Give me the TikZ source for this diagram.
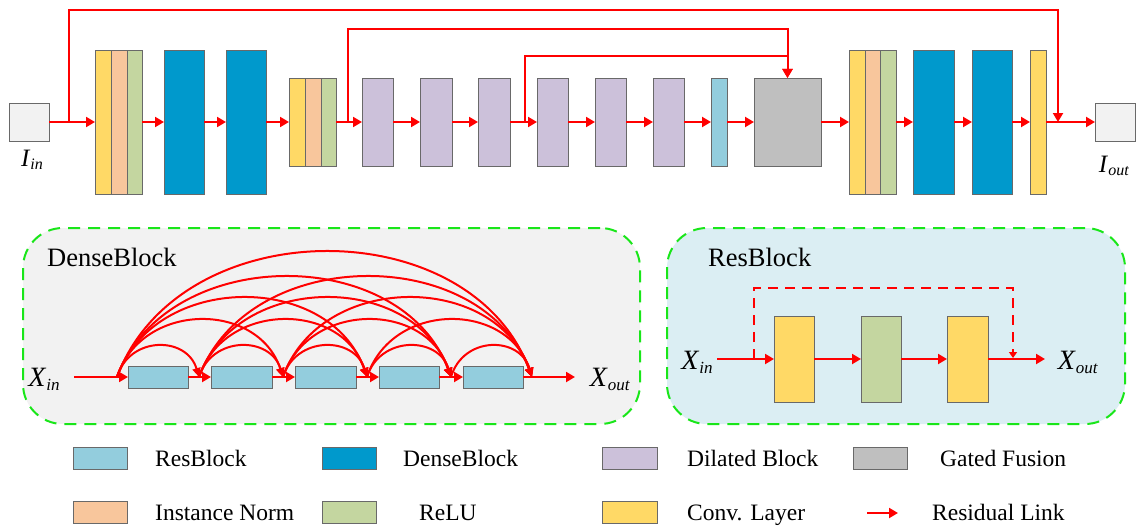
\documentclass[tikz,border=0pt]{standalone}
\usepackage{fontspec}
\setmainfont{Liberation Serif}
\usetikzlibrary{arrows.meta}

\definecolor{convY}{RGB}{255,217,102}
\definecolor{normO}{RGB}{248,198,156}
\definecolor{reluG}{RGB}{196,214,160}
\definecolor{denseB}{RGB}{0,153,204}
\definecolor{dilP}{RGB}{204,193,218}
\definecolor{resB}{RGB}{147,205,221}
\definecolor{gateG}{RGB}{191,191,191}
\definecolor{ioG}{RGB}{242,242,242}
\definecolor{edgeG}{RGB}{105,105,105}
\definecolor{panelG}{RGB}{242,242,242}
\definecolor{panelB}{RGB}{219,238,243}
\definecolor{dashG}{RGB}{25,230,25}
\definecolor{linkR}{RGB}{255,0,0}

% box given by its left, top, right and bottom edges
\newcommand{\mkbox}[6]{%
  \node[blk,fill=#2,minimum width={(#5-#3)*1pt},minimum height={(#6-#4)*1pt}]
    (#1) at ({(#3+#5)/2},{(#4+#6)/2}) {};}
% italic symbol with italic subscript
\newcommand{\biglab}[2]{{\fontsize{28}{30}\selectfont\textit{#1}\raisebox{-4pt}{\fontsize{17}{18}\selectfont\textit{#2}}}}
\newcommand{\toplab}[2]{{\fontsize{25}{27}\selectfont\textit{#1}\raisebox{-3pt}{\fontsize{16}{17}\selectfont\textit{#2}}}}

\begin{document}
\begin{tikzpicture}[x=1pt,y=-1pt,
  blk/.style={draw=edgeG,line width=0.9pt,inner sep=0pt,outer sep=0pt,rectangle},
  tip/.style={-{Triangle[length=9pt,width=10pt]}},
  flow/.style={draw=linkR,line width=2pt,tip},
  skiplink/.style={draw=linkR,line width=2pt,tip},
  dashlink/.style={draw=linkR,line width=2pt,dash pattern=on 10pt off 7pt,-{Triangle[length=6pt,width=8pt]}},
  arc/.style={draw=linkR,line width=2pt,-{Triangle[length=9pt,width=8pt]}},
  panel/.style={draw=dashG,line width=2pt,dash pattern=on 12pt off 8pt,rounded corners=40pt,inner sep=0pt,outer sep=0pt},
  title/.style={anchor=west,inner sep=0pt,font=\fontsize{26.5}{28}\selectfont},
  legtext/.style={anchor=west,inner sep=0pt,text height=16pt,text depth=0pt,font=\fontsize{23.5}{25}\selectfont}]
\useasboundingbox (0,0) rectangle (1144,527);

% ---------------- main network ----------------
\mkbox{in}{ioG}{9}{103}{49}{141}
\mkbox{ca1}{convY}{95}{50}{111}{194}
\mkbox{ca2}{normO}{111}{50}{127}{194}
\mkbox{ca3}{reluG}{127}{50}{142}{194}
\mkbox{da1}{denseB}{164}{50}{204}{194}
\mkbox{da2}{denseB}{226}{50}{266}{194}
\mkbox{cb1}{convY}{289}{78}{305}{166}
\mkbox{cb2}{normO}{305}{78}{321}{166}
\mkbox{cb3}{reluG}{321}{78}{336}{166}
\mkbox{dl1}{dilP}{362}{78}{393}{166}
\mkbox{dl2}{dilP}{420}{78}{452}{166}
\mkbox{dl3}{dilP}{478}{78}{510}{166}
\mkbox{dl4}{dilP}{537}{78}{568}{166}
\mkbox{dl5}{dilP}{595}{78}{626}{166}
\mkbox{dl6}{dilP}{653}{78}{684}{166}
\mkbox{rb}{resB}{711}{78}{727}{166}
\mkbox{gf}{gateG}{754}{78}{821}{166}
\mkbox{cc1}{convY}{849}{50}{865}{194}
\mkbox{cc2}{normO}{865}{50}{880}{194}
\mkbox{cc3}{reluG}{880}{50}{896}{194}
\mkbox{db1}{denseB}{913}{50}{954}{194}
\mkbox{db2}{denseB}{972}{50}{1012}{194}
\mkbox{cv}{convY}{1030}{50}{1046}{194}
\mkbox{out}{ioG}{1095}{103}{1135}{141}

\node[inner sep=0pt] (inlab) at (32,160) {\toplab{I}{in}};
\node[inner sep=0pt] (outlab) at (1114,166) {\toplab{I}{out}};

\foreach \a/\b in {in/ca1,ca3/da1,da1/da2,da2/cb1,cb3/dl1,dl1/dl2,dl2/dl3,
  dl3/dl4,dl4/dl5,dl5/dl6,dl6/rb,rb/gf,gf/cc1,cc3/db1,db1/db2,db2/cv,cv/out}
  \draw[flow] (\a.east) -- (\b.west);

% long-range residual links
\coordinate (s1) at (69,122);  \coordinate (t1) at (69,10);  \coordinate (s1e) at (1058,122);
\coordinate (s2) at (348,122); \coordinate (t2) at (348,29);
\coordinate (s3) at (525,122); \coordinate (t3) at (525,56);
\draw[skiplink] (s1) -- (t1) -| (s1e);
\draw[skiplink] (s3) -- (t3) -| (gf.north);
\draw[skiplink] (s2) -- (t2) -| (gf.north);

% ---------------- DenseBlock detail ----------------
\node[panel,fill=panelG,minimum width=617pt,minimum height=196pt] (dpanel) at (331.5,326) {};
\node[title] (dtitle) at (47,257) {DenseBlock};
\mkbox{r1}{resB}{128}{366}{188}{388}
\mkbox{r2}{resB}{211}{366}{272}{388}
\mkbox{r3}{resB}{295}{366}{356}{388}
\mkbox{r4}{resB}{379}{366}{439}{388}
\mkbox{r5}{resB}{463}{366}{523}{388}
\coordinate (xin) at (74,377);
\coordinate (xout) at (575,377);
\node[inner sep=0pt] (xinlab) at (44,379) {\biglab{X}{in}};
\node[inner sep=0pt] (xoutlab) at (610,379) {\biglab{X}{out}};
\draw[flow] (xin) -- (r1.west);
\foreach \a/\b in {r1/r2,r2/r3,r3/r4,r4/r5} \draw[flow] (\a.east) -- (\b.west);
\draw[flow] (r5.east) -- (xout);

% dense connections between every pair of junctions
\def\jx{{117,199,283,367,451,532}}
\def\jh{{0,31,57,79,100,125}}
\foreach \i in {0,...,5} \coordinate (J\i) at ({\jx[\i]},377);
\foreach \i in {0,...,4}{
  \pgfmathtruncatemacro\nxt{\i+1}
  \foreach \j in {\nxt,...,5}{
    \pgfmathsetmacro\xa{\jx[\i]}
    \pgfmathsetmacro\xb{\jx[\j]}
    \pgfmathsetmacro\sp{\xb-\xa}
    \pgfmathsetmacro\cy{377-4/3*\jh[\j-\i]}
    \draw[arc] (J\i) .. controls ({\xa+0.15*\sp},\cy) and ({\xb-0.15*\sp},\cy) .. (J\j);
  }
}

% ---------------- ResBlock detail ----------------
\node[panel,fill=panelB,minimum width=458pt,minimum height=196pt] (rpanel) at (896,326) {};
\node[title] (rtitle) at (708,257) {ResBlock};
\mkbox{rc1}{convY}{774}{316}{814}{402}
\mkbox{rc2}{reluG}{861}{316}{901}{402}
\mkbox{rc3}{convY}{947}{316}{988}{402}
\coordinate (rin) at (717,359);
\coordinate (rout) at (1045,359);
\node[inner sep=0pt] (rinlab) at (697,362) {\biglab{X}{in}};
\node[inner sep=0pt] (routlab) at (1078,362) {\biglab{X}{out}};
\draw[flow] (rin) -- (rc1.west);
\draw[flow] (rc1.east) -- (rc2.west);
\draw[flow] (rc2.east) -- (rc3.west);
\draw[flow] (rc3.east) -- (rout);
\coordinate (rs) at (754,359); \coordinate (rt) at (754,288); \coordinate (re) at (1013,358);
\draw[dashlink] (rs) -- (rt) -| (re);

% ---------------- legend ----------------
\mkbox{lg1}{resB}{73}{447}{127}{469}
\mkbox{lg2}{denseB}{322}{447}{376}{469}
\mkbox{lg3}{dilP}{602}{447}{657}{469}
\mkbox{lg4}{gateG}{853}{447}{907}{469}
\mkbox{lg5}{normO}{73}{501}{127}{523}
\mkbox{lg6}{reluG}{322}{501}{376}{523}
\mkbox{lg7}{convY}{602}{501}{657}{523}
\node[legtext] (lt1) at (155,458) {ResBlock};
\node[legtext] (lt2) at (403,458) {DenseBlock};
\node[legtext] (lt3) at (687,458) {Dilated Block};
\node[legtext] (lt4) at (940,458) {Gated Fusion};
\node[legtext] (lt5) at (155,512) {Instance Norm};
\node[legtext] (lt6) at (419,512) {ReLU};
\node[legtext] (lt7) at (687,512) {Conv. Layer};
\node[legtext] (lt8) at (932,512) {Residual Link};
\coordinate (la) at (867,513); \coordinate (lb) at (898,513);
\draw[flow] (la) -- (lb);
\end{tikzpicture}
\end{document}
